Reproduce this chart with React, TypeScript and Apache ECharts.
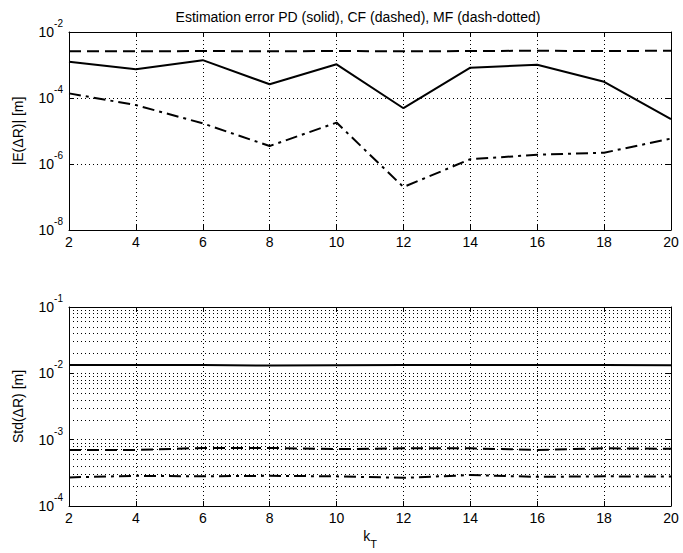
import React, { useEffect, useRef } from 'react';
import * as echarts from 'echarts';

const kT = [2, 4, 6, 8, 10, 12, 14, 16, 18, 20];
const meanPD = [1.26e-3, 7.4e-4, 1.4e-3, 2.6e-4, 1.05e-3, 4.9e-5, 8.3e-4, 1.02e-3, 3.1e-4, 2.3e-5];
const meanCF = [2.6e-3, 2.6e-3, 2.65e-3, 2.6e-3, 2.65e-3, 2.6e-3, 2.65e-3, 2.7e-3, 2.65e-3, 2.7e-3];
const meanMF = [1.38e-4, 6.1e-5, 1.7e-5, 3.5e-6, 1.8e-5, 2.0e-7, 1.4e-6, 1.9e-6, 2.2e-6, 5.9e-6];
const stdPD = [1.33e-2, 1.33e-2, 1.34e-2, 1.31e-2, 1.32e-2, 1.33e-2, 1.34e-2, 1.33e-2, 1.33e-2, 1.32e-2];
const stdCF = [7.0e-4, 7.0e-4, 7.5e-4, 7.5e-4, 7.2e-4, 7.4e-4, 7.4e-4, 7.0e-4, 7.4e-4, 7.3e-4];
const stdMF = [2.7e-4, 2.85e-4, 2.8e-4, 2.85e-4, 2.8e-4, 2.66e-4, 2.93e-4, 2.75e-4, 2.8e-4, 2.78e-4];
const topExpRange = [-8, -2];
const bottomExpRange = [-4, -1];
const bottomDecades = [-4, -3, -2];
const minorMultipliers = [2, 3, 4, 5, 6, 7, 8, 9];
const titleText = 'Estimation error PD (solid), CF (dashed), MF (dash-dotted)';
const topYName = '|E(\u0394R)| [m]';
const bottomYName = 'Std(\u0394R) [m]';

const FONT = '"Liberation Sans", Arial, Helvetica, sans-serif';
const TICK_FS = 14;

const dotted = { color: '#000', width: 1, type: [1, 3] as number[] };
const solidStyle = { color: '#000', width: 2, type: 'solid' as const };
const dashedStyle = { color: '#000', width: 2, type: [12, 6] as number[] };
const dashDotStyle = { color: '#000', width: 2, type: [12, 5, 3, 5] as number[] };

const toData = (vals: number[]) => kT.map((k, i) => [k, Math.log10(vals[i])]);

const expLabel = {
  margin: 6,
  formatter: (v: number) => `{b|10}{s|${v}}`,
  rich: {
    b: { fontSize: TICK_FS, lineHeight: 27, verticalAlign: 'middle', fontFamily: FONT, color: '#000' },
    s: { fontSize: 10, lineHeight: 11, verticalAlign: 'top', fontFamily: FONT, color: '#000' },
  },
};

const axisLine = { show: true, onZero: false, lineStyle: { color: '#000', width: 1 } };
const axisTick = { show: true, inside: true, length: 5, lineStyle: { color: '#000', width: 1 } };

function xAxes(gridIndex: number, withName: boolean) {
  const main: any = {
    type: 'value', gridIndex, min: 2, max: 20, interval: 2, position: 'bottom',
    axisLine, axisTick,
    axisLabel: { margin: 5, fontSize: TICK_FS, color: '#000', fontFamily: FONT },
    splitLine: { show: true, lineStyle: dotted },
  };
  if (withName) {
    main.name = '{k|k}{t|T}';
    main.nameLocation = 'middle';
    main.nameGap = 16;
    main.nameTextStyle = {
      rich: {
        k: { fontSize: TICK_FS, lineHeight: 27, verticalAlign: 'middle', fontFamily: FONT, color: '#000' },
        t: { fontSize: 11, lineHeight: 11, verticalAlign: 'bottom', fontFamily: FONT, color: '#000' },
      },
    };
  }
  const top = {
    type: 'value', gridIndex, min: 2, max: 20, interval: 2, position: 'top',
    axisLine, axisTick, axisLabel: { show: false }, splitLine: { show: false },
  };
  return [main, top];
}

function yAxes(gridIndex: number, range: number[], interval: number, name: string) {
  const main = {
    type: 'value', gridIndex, min: range[0], max: range[1], interval, position: 'left',
    axisLine, axisTick, axisLabel: expLabel,
    splitLine: { show: true, lineStyle: dotted },
    name, nameLocation: 'middle', nameGap: 44,
    nameTextStyle: { fontSize: TICK_FS, color: '#000', fontFamily: FONT },
  };
  const right = {
    type: 'value', gridIndex, min: range[0], max: range[1], interval, position: 'right',
    axisLine, axisTick, axisLabel: { show: false }, splitLine: { show: false },
  };
  return [main, right];
}

const minorLines: number[] = [];
bottomDecades.forEach((d) => minorMultipliers.forEach((m) => minorLines.push(Math.log10(m * Math.pow(10, d)))));

function line(data: number[], xi: number, yi: number, style: any, extra: any = {}) {
  return {
    type: 'line', xAxisIndex: xi, yAxisIndex: yi, data: toData(data),
    symbol: 'none', showSymbol: false, lineStyle: style, silent: true, ...extra,
  };
}

export default function App() {
  const ref = useRef<HTMLDivElement>(null);
  useEffect(() => {
    if (!ref.current) return;
    const chart = echarts.init(ref.current, null, { renderer: 'svg' });
    chart.setOption({
      animation: false,
      backgroundColor: '#fff',
      title: {
        text: titleText, left: 353, top: 5, textAlign: 'center',
        textStyle: { fontSize: 14, fontWeight: 'normal', color: '#000', fontFamily: FONT },
      },
      grid: [
        { left: 69, top: 32, width: 602, height: 198, show: false },
        { left: 69, top: 307, width: 602, height: 199, show: false },
      ],
      xAxis: [...xAxes(0, false), ...xAxes(1, true)],
      yAxis: [...yAxes(0, topExpRange, 2, topYName), ...yAxes(1, bottomExpRange, 1, bottomYName)],
      series: [
        line(meanPD, 0, 0, solidStyle),
        line(meanCF, 0, 0, dashedStyle),
        line(meanMF, 0, 0, dashDotStyle),
        line(stdPD, 2, 2, solidStyle, {
          markLine: {
            silent: true, symbol: ['none', 'none'], label: { show: false },
            lineStyle: dotted, emphasis: { disabled: true },
            data: minorLines.map((v) => ({ yAxis: v })),
          },
        }),
        line(stdCF, 2, 2, dashedStyle),
        line(stdMF, 2, 2, dashDotStyle),
      ],
    });
    return () => chart.dispose();
  }, []);
  return <div ref={ref} style={{ position: 'fixed', left: 0, top: 0, width: 683, height: 553 }} />;
}
